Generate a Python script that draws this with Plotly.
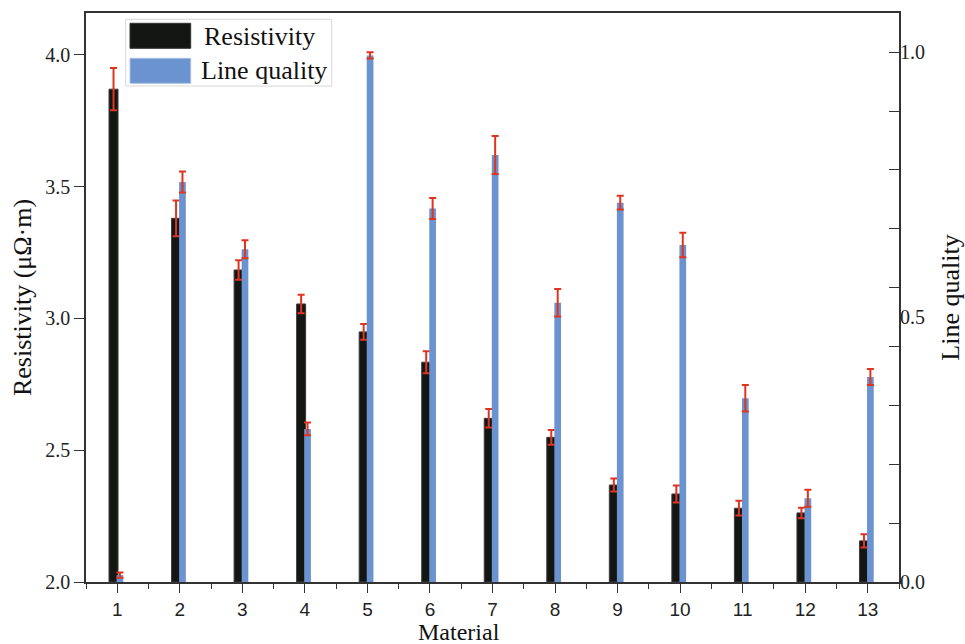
import plotly.graph_objects as go

# ---- data ----
materials = [1, 2, 3, 4, 5, 6, 7, 8, 9, 10, 11, 12, 13]
x_tick_labels = ["1", "2", "3", "4", "5", "6", "7", "8", "9", "10", "11", "12", "13"]
resistivity = [3.87, 3.38, 3.184, 3.055, 2.949, 2.834, 2.621, 2.549, 2.368, 2.334, 2.28, 2.262, 2.156]
resistivity_err = [0.08, 0.068, 0.037, 0.035, 0.03, 0.042, 0.035, 0.028, 0.025, 0.032, 0.028, 0.02, 0.025]
line_quality = [0.013, 0.755, 0.628, 0.289, 0.994, 0.705, 0.806, 0.527, 0.716, 0.636, 0.347, 0.158, 0.387]
line_quality_err = [0.005, 0.02, 0.017, 0.012, 0.006, 0.02, 0.036, 0.026, 0.013, 0.023, 0.025, 0.016, 0.015]
left_ticks = [2.0, 2.5, 3.0, 3.5, 4.0]
left_tick_labels = ["2.0", "2.5", "3.0", "3.5", "4.0"]
right_label_vals = [0.0, 0.5, 1.0]
right_label_text = ["0.0", "0.5", "1.0"]
right_tick_marks = [0, 1/9, 2/9, 3/9, 4/9, 5/9, 6/9, 7/9, 8/9, 1.0]
resistivity_base = 2.0

BLACK = "#141614"
BLUE = "#6b93cf"
RED = "#e0341f"
SERIF = "Liberation Serif, Times New Roman, serif"
SANS = "Liberation Sans, Arial, sans-serif"

W, H = 965, 644
L, R, T, B = 86, 66, 13, 62
pw, ph = W - L - R, H - T - B


def px(xp):
    return (xp - L) / pw


def py(yp):
    return (H - B - yp) / ph


fig = go.Figure()

fig.add_trace(go.Bar(
    x=materials, y=line_quality, yaxis="y2", name="Line quality",
    marker=dict(color=BLUE, line=dict(width=0)),
    offset=-0.011, width=0.107,
    error_y=dict(type="data", array=line_quality_err, color=RED, thickness=2, width=3.5),
    showlegend=False,
))
fig.add_trace(go.Bar(
    x=materials, y=[v - resistivity_base for v in resistivity], base=resistivity_base,
    yaxis="y", name="Resistivity",
    marker=dict(color=BLACK, line=dict(color="#3c3c3c", width=1)),
    offset=-0.132, width=0.144,
    error_y=dict(type="data", array=resistivity_err, color=RED, thickness=2, width=3.5),
    showlegend=False,
))
fig.add_trace(go.Scatter(x=[None], y=[None], yaxis="y3", showlegend=False, hoverinfo="skip"))

fig.update_layout(
    width=W, height=H,
    margin=dict(l=L, r=R, t=T, b=B, autoexpand=False),
    paper_bgcolor="white", plot_bgcolor="white",
    barmode="overlay",
    showlegend=False,
    xaxis=dict(
        range=[0.5, 13.5], tickvals=materials, ticktext=x_tick_labels,
        ticks="outside", ticklen=9, tickwidth=1.3, tickcolor="#333",
        showline=True, linecolor="#333", linewidth=1.5, mirror=True,
        showgrid=False, zeroline=False,
        tickfont=dict(family=SANS, size=19, color="#222"),
        minor=dict(tick0=0.5, dtick=1, ticks="outside", ticklen=5, tickwidth=1.3, tickcolor="#333", showgrid=False),
    ),
    yaxis=dict(
        range=[2.0, 4.159], tickvals=left_ticks, ticktext=left_tick_labels,
        ticks="outside", ticklen=10, tickwidth=1.3, tickcolor="#333",
        showline=True, linecolor="#333", linewidth=1.5,
        showgrid=False, zeroline=False,
        tickfont=dict(family=SERIF, size=20, color="#222"),
        title=dict(text="Resistivity (μΩ·m)", font=dict(family=SERIF, size=26, color="#111"), standoff=6),
        automargin=False,
    ),
    yaxis2=dict(
        range=[0.0, 1.074], overlaying="y", side="right", anchor="x",
        tickvals=right_tick_marks, ticktext=[""] * len(right_tick_marks),
        ticks="inside", ticklen=10, tickwidth=1.3, tickcolor="#333",
        showline=True, linecolor="#333", linewidth=1.5,
        showgrid=False, zeroline=False,
        title=dict(text="Line quality", font=dict(family=SERIF, size=26, color="#111"), standoff=40),
        automargin=False,
    ),
    yaxis3=dict(
        range=[0.0, 1.074], overlaying="y", side="right", anchor="x",
        tickvals=right_label_vals, ticktext=right_label_text,
        ticks="", showline=False, showgrid=False, zeroline=False,
        tickfont=dict(family=SERIF, size=20, color="#222"),
        automargin=False,
    ),
)

# x axis title (offset left as in reference)
fig.add_annotation(text="Material", xref="paper", yref="paper", x=px(459), y=py(646),
                   xanchor="center", yanchor="bottom", showarrow=False, borderpad=0,
                   font=dict(family=SERIF, size=24, color="#111"))

# manual legend
fig.add_shape(type="rect", xref="paper", yref="paper", x0=px(125.7), x1=px(331.7), y0=py(86), y1=py(19.3),
              line=dict(color="#d8d8d8", width=1), fillcolor="white", layer="above")
fig.add_shape(type="rect", xref="paper", yref="paper", x0=px(130), x1=px(190.7), y0=py(48.3), y1=py(23.3),
              line=dict(color="#333", width=1), fillcolor=BLACK, layer="above")
fig.add_shape(type="rect", xref="paper", yref="paper", x0=px(130), x1=px(190.7), y0=py(83.3), y1=py(58.3),
              line=dict(color="#a9c0e8", width=1), fillcolor=BLUE, layer="above")
fig.add_annotation(text="Resistivity", xref="paper", yref="paper", x=px(202), y=py(36),
                   xanchor="left", yanchor="middle", showarrow=False,
                   font=dict(family=SERIF, size=26, color="#111"))
fig.add_annotation(text="Line quality", xref="paper", yref="paper", x=px(199), y=py(70),
                   xanchor="left", yanchor="middle", showarrow=False,
                   font=dict(family=SERIF, size=26, color="#111"))

fig.write_html("out.html", config={"displayModeBar": False},
               post_script="document.body.style.margin='0px';")
